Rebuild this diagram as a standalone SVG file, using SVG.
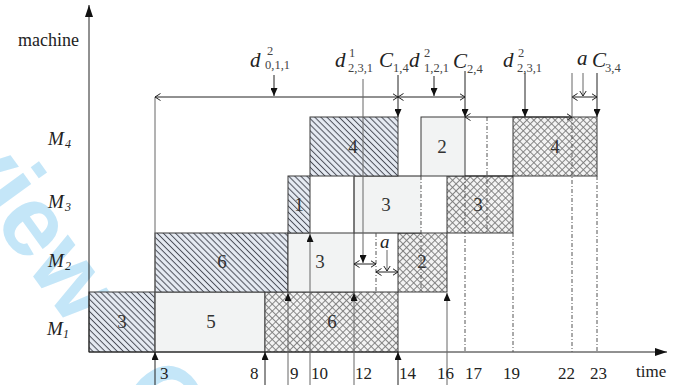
<svg xmlns="http://www.w3.org/2000/svg" width="697" height="385" viewBox="0 0 697 385">
<style>
.blk{stroke:#3a3a3a;stroke-width:1}
.ln{stroke:#222;stroke-width:1;fill:none}
.gl{stroke:#666;stroke-width:1;fill:none}
.dd{stroke:#555;stroke-width:1;stroke-dasharray:4 2 1 2;fill:none}
.num{font-family:"Liberation Serif",serif;font-size:19px;fill:#333;text-anchor:middle}
.tick{font-family:"Liberation Serif",serif;font-size:17px;fill:#222}
.it{font-family:"Liberation Serif",serif;font-style:italic;fill:#222}
.sub{font-family:"Liberation Serif",serif;fill:#444;font-size:12.5px}
.wm{font-family:"Liberation Sans",Arial,sans-serif;font-weight:bold;font-size:100px;fill:#c4e6f8}
</style>
<defs>
<pattern id="hatch" width="4.3" height="4.3" patternUnits="userSpaceOnUse" patternTransform="rotate(-45)">
<rect width="4.3" height="4.3" fill="#e6ebf3"/>
<line x1="2.15" y1="0" x2="2.15" y2="4.3" stroke="#4a4d58" stroke-width="1"/>
</pattern>
<pattern id="cross" width="5" height="5" patternUnits="userSpaceOnUse" patternTransform="rotate(45)">
<rect width="5" height="5" fill="#f3f3f3"/>
<line x1="2.5" y1="0" x2="2.5" y2="5" stroke="#7a7a7a" stroke-width="0.9"/>
<line x1="0" y1="2.5" x2="5" y2="2.5" stroke="#7a7a7a" stroke-width="0.9"/>
</pattern>
<marker id="fa" viewBox="0 0 8 7" refX="8" refY="3.5" markerWidth="8" markerHeight="7" markerUnits="userSpaceOnUse" orient="auto"><path d="M0,0L8,3.5L0,7z" fill="#111"/></marker>
<marker id="ax" viewBox="0 0 12 8" refX="12" refY="4" markerWidth="12" markerHeight="8" markerUnits="userSpaceOnUse" orient="auto"><path d="M0,0L12,4L0,8z" fill="#111"/></marker>
<marker id="oa" viewBox="0 0 6 8" refX="5.5" refY="4" markerWidth="6" markerHeight="8" markerUnits="userSpaceOnUse" orient="auto-start-reverse"><path d="M0,0.5L5.5,4L0,7.5" fill="none" stroke="#222" stroke-width="1"/></marker>
</defs>

<g id="watermark">
<text class="wm" x="-131.5" y="49.9" transform="rotate(54 -131.5 49.9)">Review<tspan dx="77">Only</tspan></text>
</g>

<g id="M1">
<g id="m1-job3"><rect class="blk" x="89" y="292" width="66" height="60" fill="url(#hatch)"/><text class="num" x="122" y="328">3</text></g>
<g id="m1-job5"><rect class="blk" x="155" y="292" width="110" height="60" fill="#f2f3f3"/><text class="num" x="211" y="328">5</text></g>
<g id="m1-job6"><rect class="blk" x="265" y="292" width="133" height="60" fill="url(#cross)"/><text class="num" x="332" y="328">6</text></g>
</g>

<g id="M2">
<g id="m2-job6"><rect class="blk" x="155" y="233" width="133" height="59" fill="url(#hatch)"/><text class="num" x="222" y="268">6</text></g>
<g id="m2-job3"><rect class="blk" x="288" y="233" width="66" height="59" fill="#f2f3f3"/><text class="num" x="320" y="268">3</text></g>
<g id="m2-job2"><rect class="blk" x="398" y="233" width="49" height="59" fill="url(#cross)"/><text class="num" x="422" y="268">2</text></g>
</g>

<g id="M3">
<g id="m3-job1"><rect class="blk" x="288" y="176" width="22" height="57" fill="url(#hatch)"/><text class="num" x="299" y="211">1</text></g>
<g id="m3-job3"><rect x="354" y="176" width="67" height="57" fill="#f2f3f3"/><path class="ln" d="M421,176H354V233H421" stroke="#3a3a3a"/><text class="num" x="386" y="211">3</text></g>
<g id="m3-job3b"><rect class="blk" x="447" y="176" width="66" height="57" fill="url(#cross)"/><text class="num" x="478" y="211">3</text></g>
</g>

<g id="M4">
<g id="m4-job4"><rect class="blk" x="310" y="117" width="88" height="59" fill="url(#hatch)"/><text class="num" x="353" y="153">4</text></g>
<g id="m4-job2"><rect class="blk" x="421" y="117" width="44" height="59" fill="#f2f3f3"/><text class="num" x="442" y="153">2</text></g>
<g id="m4-job4b"><rect class="blk" x="513" y="117" width="84" height="59" fill="url(#cross)"/><text class="num" x="555" y="153">4</text></g>
<line class="ln" x1="465" y1="176" x2="513" y2="176" stroke="#3a3a3a"/>
</g>

<g id="connectors">
<line class="ln" x1="89" y1="352" x2="89" y2="5" marker-end="url(#ax)"/>
<line class="ln" x1="89" y1="352" x2="667" y2="352" marker-end="url(#ax)"/>
<line class="dd" x1="376" y1="233" x2="376" y2="292"/>
<line class="dd" x1="421" y1="176" x2="421" y2="292"/>
<line class="dd" x1="465" y1="176" x2="465" y2="352"/>
<line class="dd" x1="487" y1="117" x2="487" y2="233"/>
<line class="dd" x1="513" y1="233" x2="513" y2="352"/>
<line class="dd" x1="572" y1="117" x2="572" y2="352"/>
<line class="dd" x1="597" y1="176" x2="597" y2="352"/>
<line class="gl" x1="155" y1="97" x2="155" y2="352" stroke="#777"/>
<line class="gl" x1="354" y1="176" x2="354" y2="233"/>
<line class="ln" x1="155" y1="385" x2="155" y2="352" marker-end="url(#fa)"/>
<line class="ln" x1="265" y1="385" x2="265" y2="352" marker-end="url(#fa)"/>
<line class="gl" x1="288" y1="385" x2="288" y2="293" marker-end="url(#fa)"/>
<line class="gl" x1="310" y1="385" x2="310" y2="234" marker-end="url(#fa)"/>
<line class="gl" x1="354" y1="385" x2="354" y2="293" marker-end="url(#fa)"/>
<line class="ln" x1="398" y1="385" x2="398" y2="352" marker-end="url(#fa)"/>
<line class="gl" x1="447" y1="385" x2="447" y2="293" marker-end="url(#fa)"/>
<line class="ln" x1="155" y1="97" x2="398" y2="97" marker-start="url(#oa)" marker-end="url(#oa)"/>
<line class="ln" x1="398" y1="97" x2="465" y2="97" marker-start="url(#oa)" marker-end="url(#oa)"/>
<line class="ln" x1="274" y1="75" x2="274" y2="96" marker-end="url(#fa)"/>
<line class="ln" x1="434" y1="76" x2="434" y2="96" marker-end="url(#fa)"/>
<line class="ln" x1="398" y1="75" x2="398" y2="117" marker-end="url(#fa)"/>
<line class="ln" x1="465" y1="71" x2="465" y2="117" marker-end="url(#fa)"/>
<line class="gl" x1="363" y1="79" x2="363" y2="263" marker-end="url(#fa)"/>
<line class="ln" x1="354" y1="264" x2="376" y2="264" marker-start="url(#oa)" marker-end="url(#oa)"/>
<line class="gl" x1="387" y1="250" x2="387" y2="271" marker-end="url(#oa)"/>
<line class="ln" x1="376" y1="272" x2="398" y2="272" marker-start="url(#oa)" marker-end="url(#oa)"/>
<line class="ln" x1="525" y1="73" x2="525" y2="117" marker-end="url(#fa)"/>
<line class="ln" x1="465" y1="117" x2="572" y2="117" marker-start="url(#oa)" marker-end="url(#oa)"/>
<line class="gl" x1="583" y1="73" x2="583" y2="96" marker-end="url(#oa)"/>
<line class="ln" x1="572" y1="97" x2="597" y2="97" marker-start="url(#oa)" marker-end="url(#oa)"/>
<line class="gl" x1="572" y1="73" x2="572" y2="117"/>
<line class="ln" x1="597" y1="73" x2="597" y2="117" marker-end="url(#fa)"/>
</g>

<g id="labels">
<text x="18" y="46" font-family="Liberation Serif,serif" font-size="18" fill="#222">machine</text>
<text class="it" x="48" y="145" font-size="19">M</text><text class="it" x="65" y="148" font-size="12">4</text>
<text class="it" x="48" y="208" font-size="19">M</text><text class="it" x="65" y="211" font-size="12">3</text>
<text class="it" x="48" y="267" font-size="19">M</text><text class="it" x="65" y="270" font-size="12">2</text>
<text class="it" x="47" y="335" font-size="19">M</text><text class="it" x="63" y="338" font-size="12">1</text>

<text class="it" x="250" y="67" font-size="21">d</text><text class="sub" x="267" y="55">2</text><text class="sub" x="265" y="69">0,1,1</text>
<text class="it" x="335" y="67" font-size="21">d</text><text class="sub" x="349" y="57">1</text><text class="sub" x="348" y="72">2,3,1</text>
<text class="it" x="379" y="67" font-size="21">C</text><text class="sub" x="393" y="72">1,4</text>
<text class="it" x="409" y="67" font-size="21">d</text><text class="sub" x="424" y="57">2</text><text class="sub" x="424" y="72">1,2,1</text>
<text class="it" x="453" y="68" font-size="21">C</text><text class="sub" x="467" y="73">2,4</text>
<text class="it" x="503" y="67" font-size="21">d</text><text class="sub" x="518" y="57">2</text><text class="sub" x="517" y="72">2,3,1</text>
<text class="it" x="577" y="65" font-size="21">a</text>
<text class="it" x="592" y="67" font-size="21">C</text><text class="sub" x="605" y="72">3,4</text>
<text class="it" x="380" y="248" font-size="19">a</text>

<text class="tick" x="160" y="379">3</text>
<text class="tick" x="250" y="379">8</text>
<text class="tick" x="290" y="379">9</text>
<text class="tick" x="311" y="379">10</text>
<text class="tick" x="355" y="379">12</text>
<text class="tick" x="399" y="379">14</text>
<text class="tick" x="437" y="379">16</text>
<text class="tick" x="465" y="379">17</text>
<text class="tick" x="503" y="379">19</text>
<text class="tick" x="558" y="379">22</text>
<text class="tick" x="590" y="379">23</text>
<text class="tick" x="636" y="377" font-size="18">time</text>
</g>
</svg>
